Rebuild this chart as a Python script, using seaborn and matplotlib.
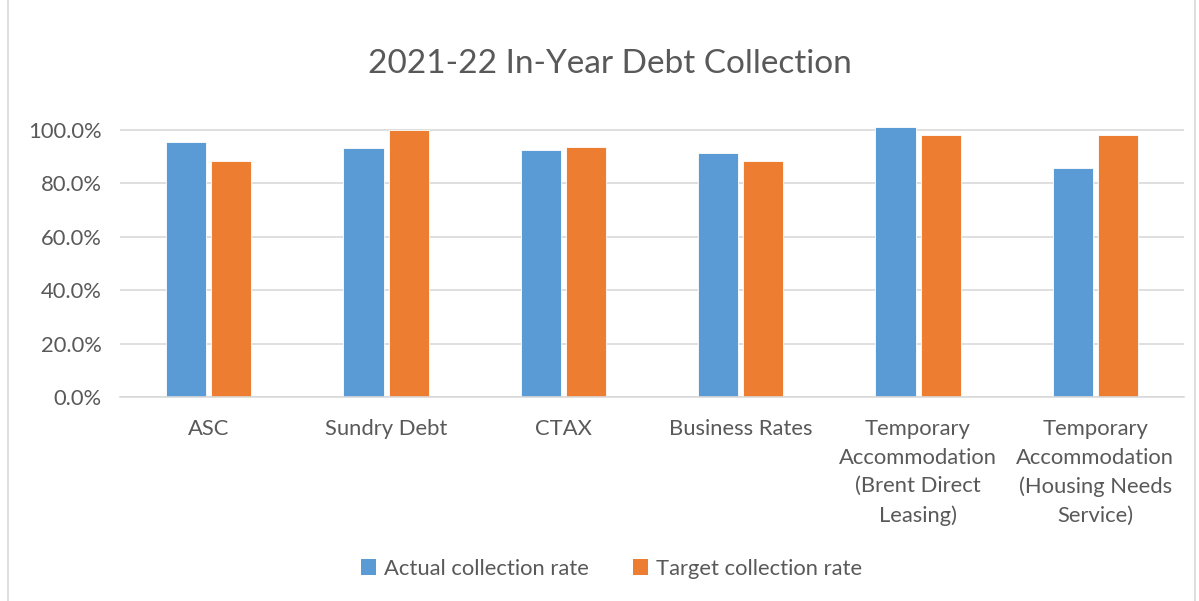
import matplotlib
matplotlib.use("Agg")
import matplotlib.pyplot as plt
import seaborn as sns
import pandas as pd
from matplotlib.patches import Patch, Rectangle
from matplotlib.ticker import PercentFormatter

categories = ["ASC", "Sundry Debt", "CTAX", "Business Rates",
              "Temporary\nAccommodation\n(Brent Direct\nLeasing)",
              "Temporary\nAccommodation\n(Housing Needs\nService)"]
actual = [0.952, 0.931, 0.922, 0.912, 1.011, 0.855]
target = [0.881, 1.000, 0.935, 0.882, 0.981, 0.981]
series = ["Actual collection rate", "Target collection rate"]
colors = ["#5B9BD5", "#ED7D31"]
yticks = [0.0, 0.2, 0.4, 0.6, 0.8, 1.0]
title = "2021-22 In-Year Debt Collection"

df = pd.DataFrame({
    "category": categories * 2,
    "value": actual + target,
    "series": [series[0]] * len(categories) + [series[1]] * len(categories),
})

sns.set_theme(style="white")
plt.rcParams["font.family"] = ["Lato", "DejaVu Sans"]
text_color = "#595959"

fig = plt.figure(figsize=(11.99, 6.01), dpi=100)
ax = fig.add_axes([0.1001, 0.3394, 0.8874, 0.4539])

sns.barplot(data=df, x="category", y="value", hue="series", order=categories,
            hue_order=series, palette=colors, width=0.51, gap=0.11,
            saturation=1, ax=ax, legend=False, edgecolor="white", linewidth=0.6)

ax.set_ylim(0, 1.02)
ax.set_yticks(yticks)
ax.yaxis.set_major_formatter(PercentFormatter(1.0, decimals=1))
ax.grid(axis="y", color="#D9D9D9", linewidth=1.2)
ax.set_axisbelow(True)
for s in ["top", "right", "left"]:
    ax.spines[s].set_visible(False)
ax.spines["bottom"].set_color("#D9D9D9")
ax.spines["bottom"].set_linewidth(1.2)
ax.set_xlabel("")
ax.set_ylabel("")
ax.tick_params(axis="both", length=0, labelsize=15.8, labelcolor=text_color)
ax.tick_params(axis="x", pad=16)
ax.tick_params(axis="y", pad=13)
for lbl in ax.get_xticklabels():
    lbl.set_linespacing(1.53)

fig.text(0.509, 0.893, title, ha="center", va="center", fontsize=24, color=text_color)

handles = [Patch(facecolor=c, edgecolor="none") for c in colors]
fig.legend(handles, series, loc="center", bbox_to_anchor=(0.51, 0.054), ncol=2,
           frameon=False, fontsize=15.8, labelcolor=text_color,
           handlelength=0.7, handleheight=0.7, handletextpad=0.35, columnspacing=2.0)

fig.patches.append(Rectangle((0.007, -0.01), 0.99, 1.02, transform=fig.transFigure,
                             fill=False, edgecolor="#D9D9D9", linewidth=1.2))

fig.savefig("out.png", dpi=100)
